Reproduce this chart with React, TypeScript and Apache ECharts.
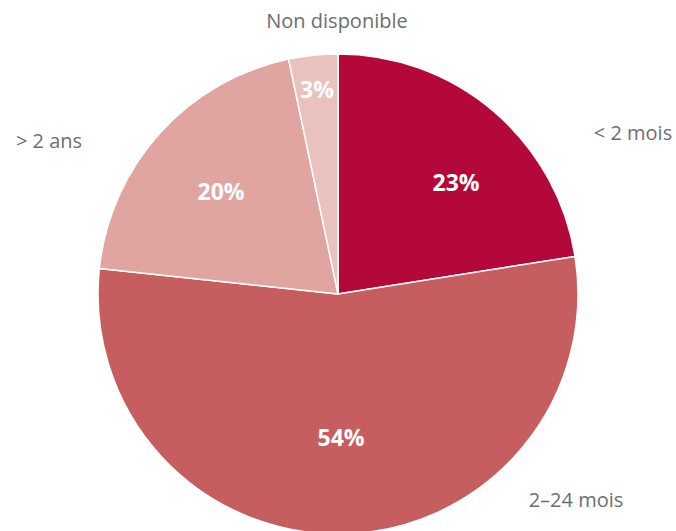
import React, { useEffect, useRef } from "react";
import * as echarts from "echarts";

const categories = ["< 2 mois", "2–24 mois", "> 2 ans", "Non disponible"];
const values = [22.5, 54.2, 20.0, 3.3];
const pctLabels = ["23%", "54%", "20%", "3%"];
const colors = ["#B5083A", "#C65E5F", "#E0A4A1", "#EAC2BD"];

// label anchor positions (px)
const innerPos = [
  [456, 182],
  [341, 437],
  [221, 191],
  [317, 89],
];
const outerPos = [
  [633, 132],
  [576, 499],
  [49, 140],
  [337, 20],
];

export default function App() {
  const ref = useRef<HTMLDivElement>(null);
  useEffect(() => {
    const chart = echarts.init(ref.current!, null, { renderer: "svg" });
    const data = categories.map((name, i) => ({
      name,
      value: values[i],
      itemStyle: { color: colors[i] },
    }));
    chart.setOption({
      animation: false,
      series: [
        {
          type: "pie",
          center: [338, 294],
          radius: [0, 240],
          startAngle: 90,
          clockwise: true,
          silent: true,
          z: 1,
          data: categories.map((name, i) => ({ name, value: values[i] })),
          itemStyle: { color: "rgba(0,0,0,0)" },
          label: {
            show: true,
            position: "outside",
            formatter: (p: any) => p.name,
            color: "#6D6E71",
            fontFamily: "Open Sans",
            fontSize: 20,
          },
          labelLine: { show: false },
          labelLayout: (p: any) => ({
            x: outerPos[p.dataIndex][0],
            y: outerPos[p.dataIndex][1],
            align: "center",
            verticalAlign: "middle",
          }),
        },
        {
          type: "pie",
          center: [338, 294],
          radius: [0, 240],
          startAngle: 90,
          clockwise: true,
          z: 2,
          data,
          itemStyle: { borderColor: "#ffffff", borderWidth: 1.5 },
          label: {
            show: true,
            position: "inside",
            formatter: (p: any) => pctLabels[p.dataIndex],
            color: "#ffffff",
            fontFamily: "Open Sans",
            fontWeight: "bold",
            fontSize: 23,
          },
          labelLine: { show: false },
          labelLayout: (p: any) => ({
            x: innerPos[p.dataIndex][0],
            y: innerPos[p.dataIndex][1],
            align: "center",
            verticalAlign: "middle",
          }),
          emphasis: { disabled: true },
        },
      ],
    });
    return () => chart.dispose();
  }, []);
  return (
    <div
      ref={ref}
      style={{ position: "fixed", left: 0, top: 0, width: 676, height: 531, background: "#fff" }}
    />
  );
}
